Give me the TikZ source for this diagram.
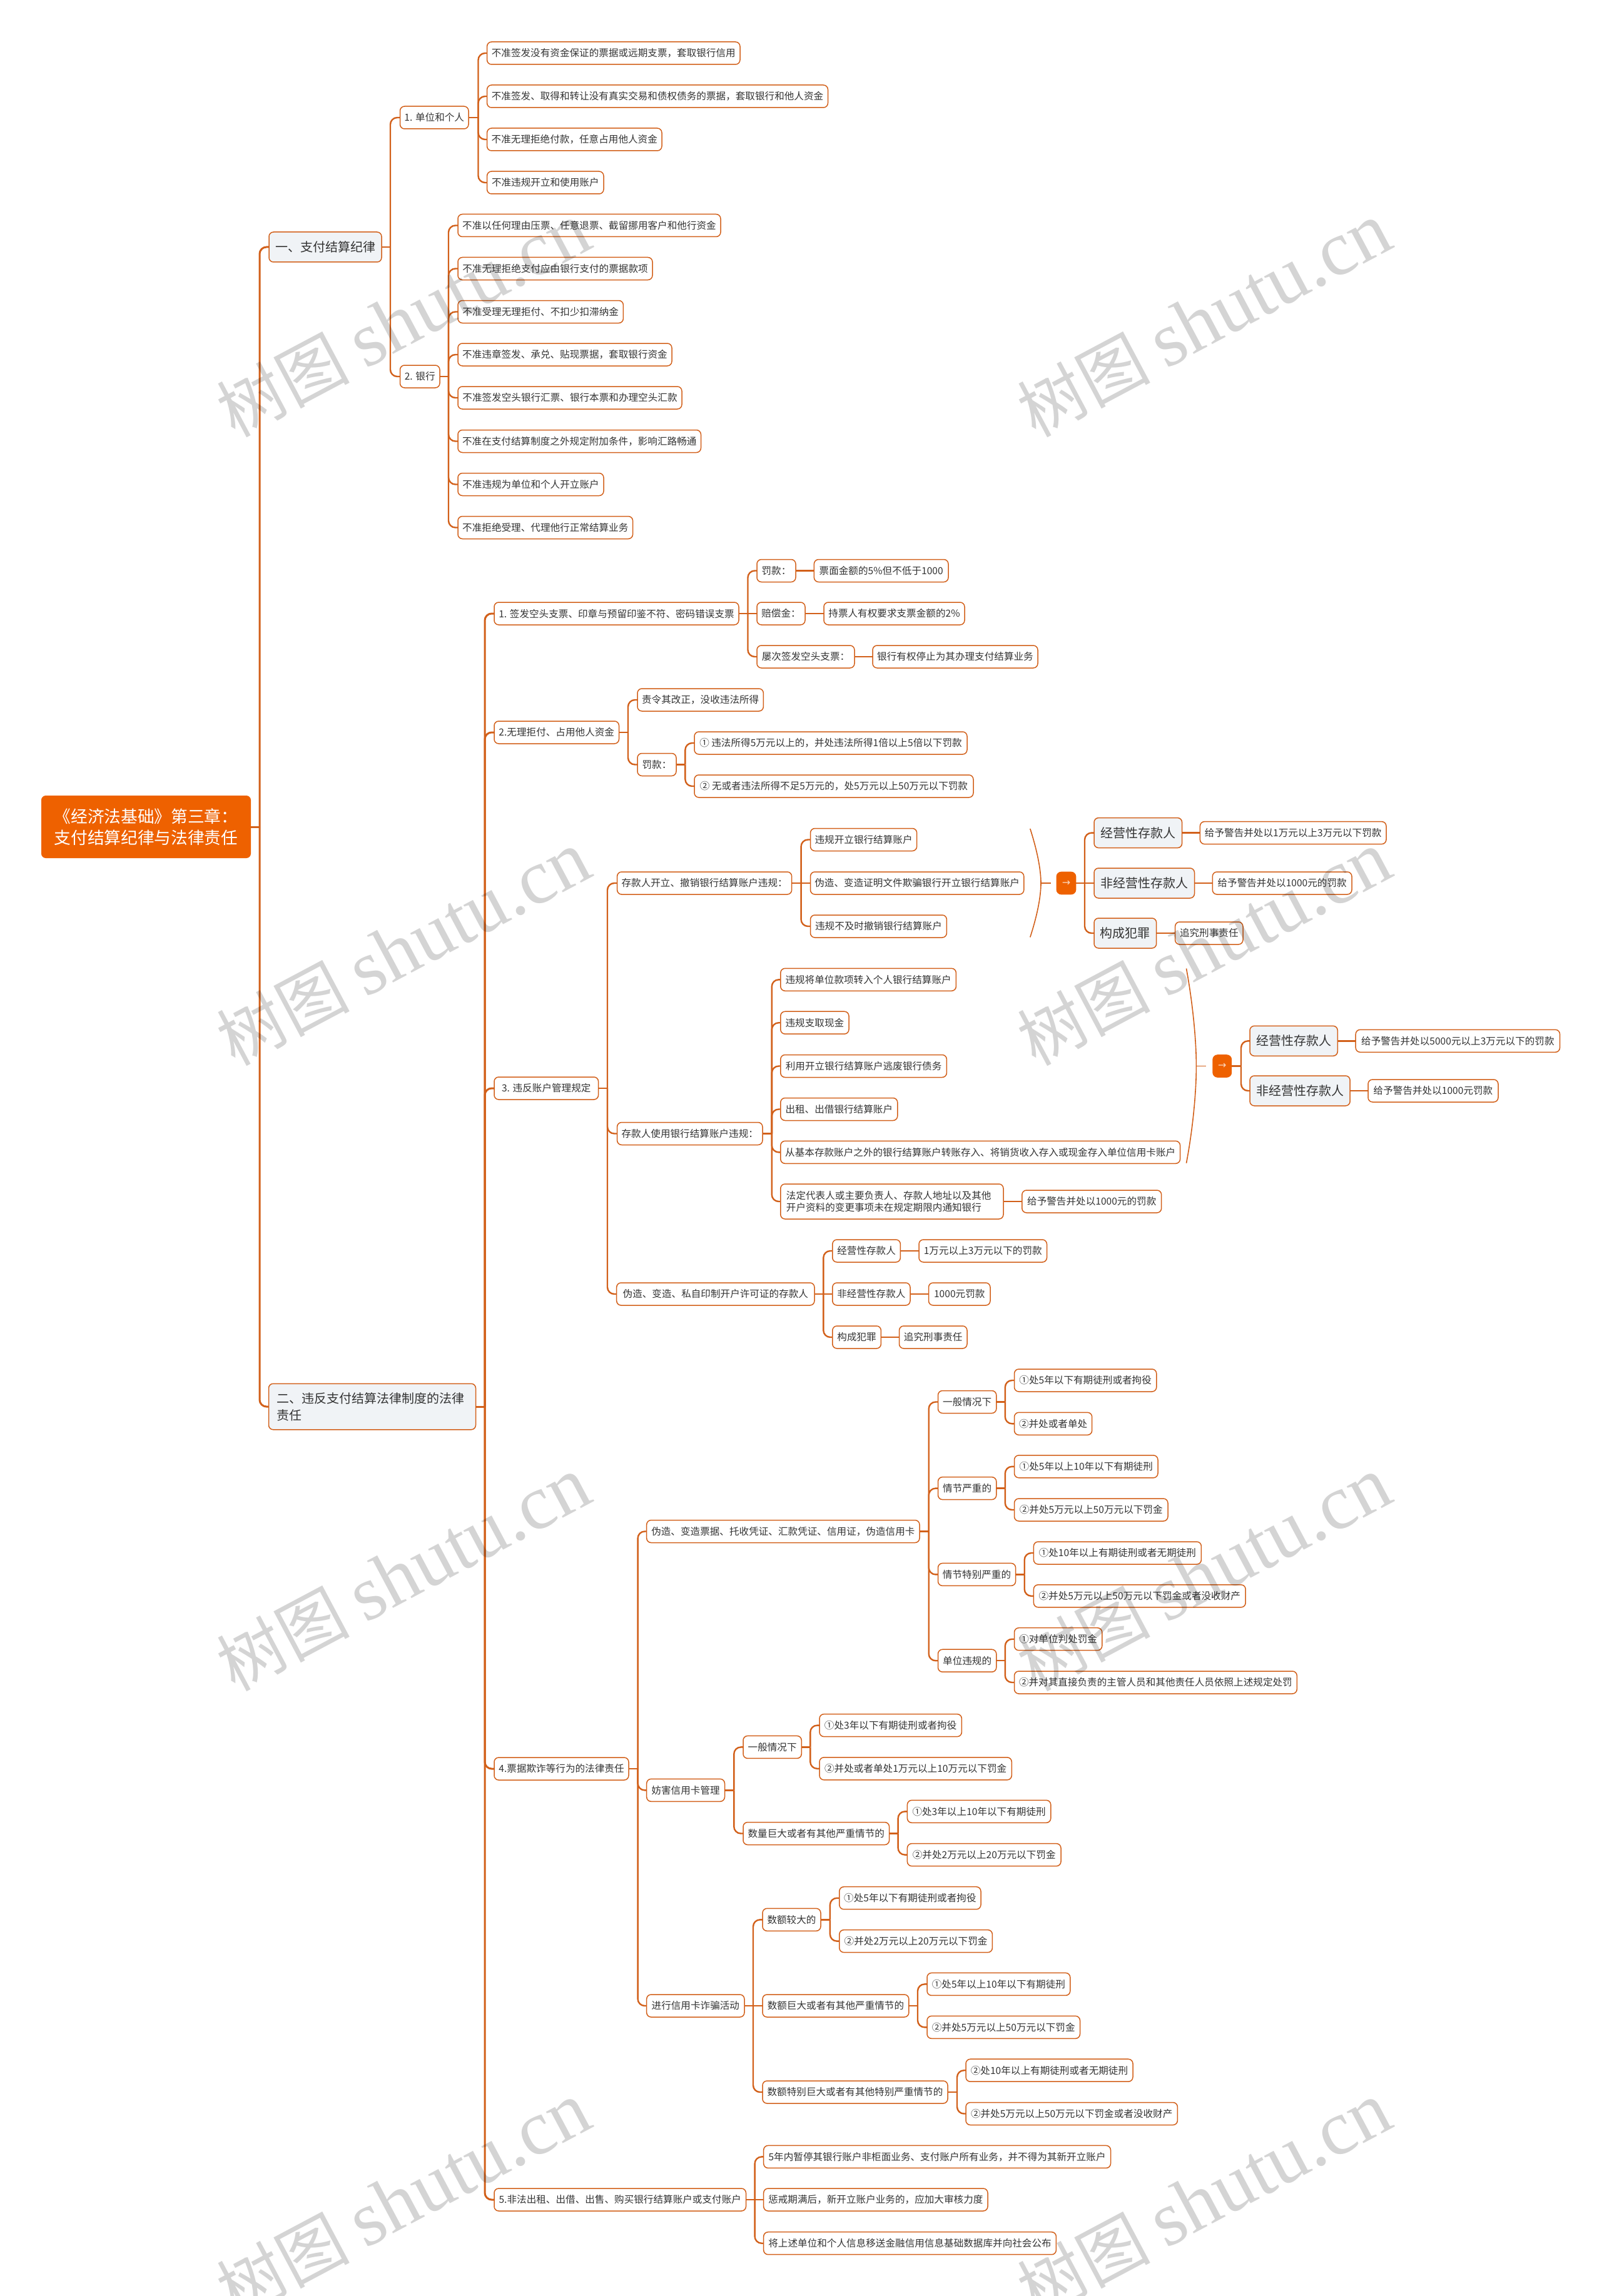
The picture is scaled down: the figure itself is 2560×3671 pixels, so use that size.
\documentclass[tikz,border=0pt]{standalone}
\usepackage{fontspec}
\setmainfont{Noto Sans CJK SC}
\newfontfamily\wmlatin{Liberation Serif}
\newfontfamily\arrowfont{DejaVu Sans}
\definecolor{linkc}{HTML}{D2601A}
\definecolor{rootc}{HTML}{EE6100}
\definecolor{majorc}{HTML}{F0F3F6}
\definecolor{inkc}{HTML}{333333}
\tikzset{
  basebox/.style={draw=linkc,line width=0.75pt,rounded corners=3.6pt,outer sep=0pt,inner sep=0pt,text=inkc},
  leaf/.style={basebox,fill=white,minimum height=18pt,font=\fontsize{7.8}{9.75}\selectfont},
  major/.style={basebox,fill=majorc,minimum height=24pt,font=\fontsize{10}{13.5}\selectfont},
  rootbox/.style={draw=none,fill=rootc,rounded corners=3.6pt,outer sep=0pt,inner sep=0pt,text=white,minimum height=50pt,align=center,font=\fontsize{13.35}{17}\selectfont},
  arrowbox/.style={draw=none,fill=rootc,rounded corners=4pt,outer sep=0pt,inner sep=0pt,text=white!75!rootc,minimum height=18.3pt,font=\arrowfont\fontsize{8}{9}\selectfont},
  link/.style={draw=linkc,line width=1.2pt},
  trunk/.style={draw=linkc,line width=1.5pt},
  thinlink/.style={draw=linkc,line width=0.8pt},
  mark wm/.style={text=black,text opacity=0.17,rotate=28,inner sep=0pt,font=\fontsize{53}{58}\selectfont}
}
% [style]{name}{left}{right}{y}{text}
\newcommand\nd[6][leaf]{\node[#1,anchor=west,minimum width={(#4-#3)*0.5pt}] (#2) at (#3,#5) {#6};}
% parent, child, x of the spine
\newcommand\conn[4][link]{\coordinate (sp) at (#4,0);
  \draw[#1] (#2.east) -- (sp |- #2.east);
  \draw[#1,rounded corners=5.5pt] (sp |- #2.east) -- (sp |- #3.west) -- (#3.west);}
\newcommand\str[3][link]{\draw[#1] (#2.east) -- (#3.west);}
\newcommand\wmk[3]{\node[mark wm] (#1) at (#2,#3) {树图 {\wmlatin\fontsize{62}{68}\selectfont shutu.cn}};}
\begin{document}
\begin{tikzpicture}[x=0.5pt,y=-0.5pt]
\fill[white] (0,0) rectangle (2560,3671);
\useasboundingbox (0,0) rectangle (2560,3671);
% root and main branches
\nd[rootbox]{root}{66}{401}{1322}{《经济法基础》第三章：\\支付结算纪律与法律责任}
\nd[major]{a}{430}{610}{395}{一、支付结算纪律}
\nd[major,minimum height=36.75pt,text width=153pt,align=left]{b}{429.5}{760.5}{2249}{二、违反支付结算法律制度的法律\\责任}
\conn[trunk]{root}{a}{415}
\conn[trunk]{root}{b}{415}
% section one
\nd{a1}{639.5}{749}{188}{1. 单位和个人}
\nd{a2}{639.5}{703}{602}{2. 银行}
\conn{a}{a1}{624}\conn{a}{a2}{624}
\nd{a11}{778.6}{1183}{85}{不准签发没有资金保证的票据或远期支票，套取银行信用}
\nd{a12}{778.6}{1323.5}{154}{不准签发、取得和转让没有真实交易和债权债务的票据，套取银行和他人资金}
\nd{a13}{778.6}{1058}{223}{不准无理拒绝付款，任意占用他人资金}
\nd{a14}{778.6}{965}{292}{不准违规开立和使用账户}
\conn{a1}{a11}{764.5}\conn{a1}{a12}{764.5}\conn{a1}{a13}{764.5}\conn{a1}{a14}{764.5}
\nd{a21}{732}{1152}{360.5}{不准以任何理由压票、任意退票、截留挪用客户和他行资金}
\nd{a22}{732}{1043}{429.5}{不准无理拒绝支付应由银行支付的票据款项}
\nd{a23}{732}{996.4}{498.5}{不准受理无理拒付、不扣少扣滞纳金}
\nd{a24}{732}{1074}{567}{不准违章签发、承兑、贴现票据，套取银行资金}
\nd{a25}{732}{1090}{636}{不准签发空头银行汇票、银行本票和办理空头汇款}
\nd{a26}{732}{1120.5}{705.5}{不准在支付结算制度之外规定附加条件，影响汇路畅通}
\nd{a27}{732}{965}{774.5}{不准违规为单位和个人开立账户}
\nd{a28}{732}{1011.6}{843.5}{不准拒绝受理、代理他行正常结算业务}
\conn{a2}{a21}{717}\conn{a2}{a22}{717}\conn{a2}{a23}{717}\conn{a2}{a24}{717}
\conn{a2}{a25}{717}\conn{a2}{a26}{717}\conn{a2}{a27}{717}\conn{a2}{a28}{717}
% section two, first level
\nd{b1}{790}{1181}{981}{1. 签发空头支票、印章与预留印鉴不符、密码错误支票}
\nd{b2}{790}{989.5}{1171}{2.无理拒付、占用他人资金}
\nd{b3}{790}{956.6}{1740}{3. 违反账户管理规定}
\nd{b4}{790}{1005}{2828}{4.票据欺诈等行为的法律责任}
\nd{b5}{790}{1192.5}{3517}{5.非法出租、出借、出售、购买银行结算账户或支付账户}
\conn[trunk]{b}{b1}{775}\conn[trunk]{b}{b2}{775}\conn[trunk]{b}{b3}{775}\conn[trunk]{b}{b4}{775}\conn[trunk]{b}{b5}{775}
% b1
\nd{b11}{1210}{1272}{912.5}{罚款：}
\nd{b12}{1210}{1287}{981}{赔偿金：}
\nd{b13}{1210}{1366}{1050}{屡次签发空头支票：}
\conn{b1}{b11}{1195.5}\conn{b1}{b13}{1195.5}\str{b1}{b12}
\nd{b111}{1301.4}{1516}{912.5}{票面金额的5\%但不低于1000}
\nd{b121}{1317}{1542}{981}{持票人有权要求支票金额的2\%}
\nd{b131}{1395}{1659}{1050}{银行有权停止为其办理支付结算业务}
\str{b11}{b111}\str{b12}{b121}\str{b13}{b131}
% b2
\nd{b21}{1019}{1220.4}{1119}{责令其改正，没收违法所得}
\nd{b22}{1019}{1081}{1222.5}{罚款：}
\conn{b2}{b21}{1004}\conn{b2}{b22}{1004}
\nd{b221}{1110}{1546}{1188}{① 违法所得5万元以上的，并处违法所得1倍以上5倍以下罚款}
\nd{b222}{1110}{1556}{1257}{② 无或者违法所得不足5万元的，处5万元以上50万元以下罚款}
\conn{b22}{b221}{1095.4}\conn{b22}{b222}{1095.4}
% b3
\nd{b31}{986.6}{1265.7}{1412}{存款人开立、撤销银行结算账户违规：}
\nd{b32}{986.6}{1219}{1812.5}{存款人使用银行结算账户违规：}
\nd{b33}{985.7}{1302}{2069}{伪造、变造、私自印制开户许可证的存款人}
\conn{b3}{b31}{971}\conn{b3}{b32}{971}\conn{b3}{b33}{971}
\nd{b311}{1295.5}{1465.7}{1342.5}{违规开立银行结算账户}
\nd{b312}{1295.5}{1636.8}{1412}{伪造、变造证明文件欺骗银行开立银行结算账户}
\nd{b313}{1295.5}{1513.4}{1481}{违规不及时撤销银行结算账户}
\conn{b31}{b311}{1280.6}\conn{b31}{b313}{1280.6}\str{b31}{b312}
\coordinate (ba1) at (1646.8,1325);
\coordinate (bm1) at (1664,1412);
\coordinate (bb1) at (1646.8,1498.5);
\coordinate (bs1) at (1680,1412);
\draw[thinlink] (ba1) .. controls (1658,1360) and (1664,1390) .. (bm1) .. controls (1664,1434) and (1658,1464) .. (bb1);
\draw[thinlink] (bm1) -- (bs1);
\nd[arrowbox]{ar1}{1688.5}{1720.4}{1412}{→}
\nd[major]{p11}{1749}{1889.6}{1331.6}{经营性存款人}
\nd[major]{p12}{1749}{1909.5}{1412}{非经营性存款人}
\nd[major]{p13}{1749}{1848.7}{1492}{构成犯罪}
\conn{ar1}{p11}{1734}\conn{ar1}{p13}{1734}\str{ar1}{p12}
\nd{p111}{1918.4}{2216}{1331.6}{给予警告并处以1万元以上3万元以下罚款}
\nd{p121}{1938.3}{2161}{1412}{给予警告并处以1000元的罚款}
\nd{p131}{1878.6}{1987}{1492}{追究刑事责任}
\str{p11}{p111}\str{p12}{p121}\str{p13}{p131}
\nd{b321}{1247.8}{1528.4}{1566.3}{违规将单位款项转入个人银行结算账户}
\nd{b322}{1247.8}{1357}{1635.2}{违规支取现金}
\nd{b323}{1247.8}{1513.4}{1704.5}{利用开立银行结算账户逃废银行债务}
\nd{b324}{1247.8}{1434.8}{1773.5}{出租、出借银行结算账户}
\nd{b325}{1247.8}{1886.6}{1842.3}{从基本存款账户之外的银行结算账户转账存入、将销货收入存入或现金存入单位信用卡账户}
\nd[leaf,minimum height=28pt,text width=169pt,align=left]{b326}{1247.8}{1604}{1921}{法定代表人或主要负责人、存款人地址以及其他\\开户资料的变更事项未在规定期限内通知银行}
\conn{b32}{b321}{1233.8}\conn{b32}{b322}{1233.8}\conn{b32}{b323}{1233.8}\conn{b32}{b324}{1233.8}\conn{b32}{b325}{1233.8}\conn{b32}{b326}{1233.8}
\nd{b3261}{1633.8}{1856.7}{1921}{给予警告并处以1000元的罚款}
\str{b326}{b3261}
\coordinate (ba2) at (1896.5,1548.5);
\coordinate (bm2) at (1912.4,1704.5);
\coordinate (bb2) at (1896.5,1859.7);
\coordinate (bs2) at (1928.4,1704.5);
\draw[thinlink] (ba2) .. controls (1906,1600) and (1912.4,1660) .. (bm2) .. controls (1912.4,1750) and (1906,1810) .. (bb2);
\draw[thinlink] (bm2) -- (bs2);
\nd[arrowbox]{ar2}{1938.3}{1969.2}{1704.5}{→}
\nd[major]{p21}{1998}{2138.3}{1664.3}{经营性存款人}
\nd[major]{p22}{1998}{2158.2}{1744}{非经营性存款人}
\conn{ar2}{p21}{1984}\conn{ar2}{p22}{1984}
\nd{p211}{2167.2}{2493.6}{1664.3}{给予警告并处以5000元以上3万元以下的罚款}
\nd{p221}{2187}{2395}{1744}{给予警告并处以1000元罚款}
\str{p21}{p211}\str{p22}{p221}
\nd{b331}{1330.8}{1439.4}{2000}{经营性存款人}
\nd{b332}{1330.8}{1455}{2069}{非经营性存款人}
\nd{b333}{1330.8}{1408.4}{2138}{构成犯罪}
\conn{b33}{b331}{1316.3}\conn{b33}{b333}{1316.3}\str{b33}{b332}
\nd{b3311}{1469}{1673.5}{2000}{1万元以上3万元以下的罚款}
\nd{b3321}{1484.5}{1583}{2069}{1000元罚款}
\nd{b3331}{1437.5}{1546}{2138}{追究刑事责任}
\str{b331}{b3311}\str{b332}{b3321}\str{b333}{b3331}
% b4
\nd{b41}{1033.7}{1470}{2448.5}{伪造、变造票据、托收凭证、汇款凭证、信用证，伪造信用卡}
\nd{b42}{1033.7}{1158.5}{2862.3}{妨害信用卡管理}
\nd{b43}{1033.7}{1190}{3207}{进行信用卡诈骗活动}
\conn{b4}{b41}{1019.6}\conn{b4}{b42}{1019.6}\conn{b4}{b43}{1019.6}
\nd{c1}{1499.5}{1592.8}{2241.5}{一般情况下}
\nd{c2}{1499.5}{1592.8}{2379.6}{情节严重的}
\nd{c3}{1499.5}{1623.6}{2517.4}{情节特别严重的}
\nd{c4}{1499.5}{1592.8}{2655.2}{单位违规的}
\conn{b41}{c1}{1484.7}\conn{b41}{c2}{1484.7}\conn{b41}{c3}{1484.7}\conn{b41}{c4}{1484.7}
\nd{c11}{1621.5}{1848.8}{2207}{①处5年以下有期徒刑或者拘役}
\nd{c12}{1621.5}{1745.7}{2276.3}{②并处或者单处}
\nd{c21}{1621.5}{1851}{2344.8}{①处5年以上10年以下有期徒刑}
\nd{c22}{1621.5}{1867}{2414}{②并处5万元以上50万元以下罚金}
\nd{c31}{1652.4}{1920.4}{2483}{①处10年以上有期徒刑或者无期徒刑}
\nd{c32}{1652.4}{1991.2}{2551.8}{②并处5万元以上50万元以下罚金或者没收财产}
\nd{c41}{1621.5}{1761.8}{2620.7}{①对单位判处罚金}
\nd{c42}{1621.5}{2073.3}{2690}{②并对其直接负责的主管人员和其他责任人员依照上述规定处罚}
\conn{c1}{c11}{1606.8}\conn{c1}{c12}{1606.8}\conn{c2}{c21}{1606.8}\conn{c2}{c22}{1606.8}
\conn{c3}{c31}{1637.7}\conn{c3}{c32}{1637.7}\conn{c4}{c41}{1606.8}\conn{c4}{c42}{1606.8}
\nd{d1}{1188}{1281.3}{2793.4}{一般情况下}
\nd{d2}{1188}{1421.6}{2931.5}{数量巨大或者有其他严重情节的}
\conn{b42}{d1}{1173.3}\conn{b42}{d2}{1173.3}
\nd{d11}{1310}{1537.4}{2758.6}{①处3年以下有期徒刑或者拘役}
\nd{d12}{1310}{1617.3}{2827.8}{②并处或者单处1万元以上10万元以下罚金}
\nd{d21}{1450.4}{1679.8}{2896.3}{①处3年以上10年以下有期徒刑}
\nd{d22}{1450.4}{1696}{2965.6}{②并处2万元以上20万元以下罚金}
\conn{d1}{d11}{1295.3}\conn{d1}{d12}{1295.3}\conn{d2}{d21}{1435.6}\conn{d2}{d22}{1435.6}
\nd{e1}{1219}{1312}{3069.3}{数额较大的}
\nd{e2}{1219}{1452.9}{3207}{数额巨大或者有其他严重情节的}
\nd{e3}{1219}{1515}{3345}{数额特别巨大或者有其他特别严重情节的}
\conn{b43}{e1}{1204}\conn{b43}{e3}{1204}\str{b43}{e2}
\nd{e11}{1341.8}{1568}{3034.7}{①处5年以下有期徒刑或者拘役}
\nd{e12}{1341.8}{1586.4}{3103.6}{②并处2万元以上20万元以下罚金}
\nd{e21}{1482}{1710.8}{3172.4}{①处5年以上10年以下有期徒刑}
\nd{e22}{1482}{1726.5}{3241.3}{②并处5万元以上50万元以下罚金}
\nd{e31}{1544}{1811}{3310.2}{②处10年以上有期徒刑或者无期徒刑}
\nd{e32}{1544}{1882.4}{3379.5}{②并处5万元以上50万元以下罚金或者没收财产}
\conn{e1}{e11}{1326.9}\conn{e1}{e12}{1326.9}\conn{e2}{e21}{1467}\conn{e2}{e22}{1467}\conn{e3}{e31}{1530}\conn{e3}{e32}{1530}
% b5
\nd{b51}{1220.7}{1775.5}{3448.4}{5年内暂停其银行账户非柜面业务、支付账户所有业务，并不得为其新开立账户}
\nd{b52}{1220.7}{1579}{3517}{惩戒期满后，新开立账户业务的，应加大审核力度}
\nd{b53}{1220.7}{1688.4}{3586.7}{将上述单位和个人信息移送金融信用信息基础数据库并向社会公布}
\conn{b5}{b51}{1206.6}\conn{b5}{b53}{1206.6}\str{b5}{b52}
% watermarks
\wmk{w1}{645}{512}\wmk{w2}{1925}{512}
\wmk{w3}{645}{1517}\wmk{w4}{1925}{1517}
\wmk{w5}{645}{2517}\wmk{w6}{1925}{2517}
\wmk{w7}{645}{3517}\wmk{w8}{1925}{3517}
\end{tikzpicture}
\end{document}
